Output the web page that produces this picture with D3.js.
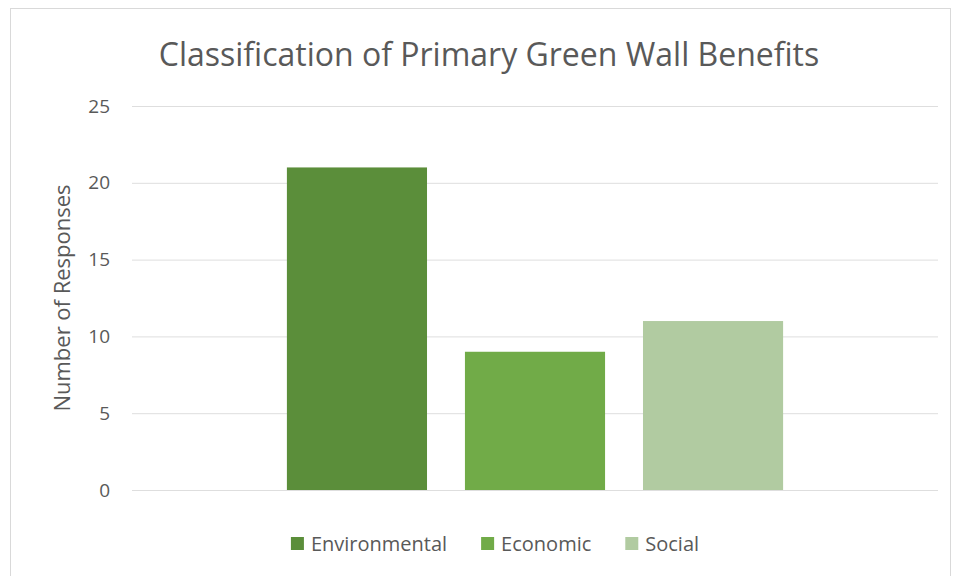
<!DOCTYPE html>
<html>
<head>
<meta charset="utf-8">
<script src="https://cdn.jsdelivr.net/npm/d3@7"></script>
<style>
  body { margin: 0; background: #fff; }
  text { font-family: "Open Sans", sans-serif; }
</style>
</head>
<body>
<svg id="chart" width="956" height="576"></svg>
<script>
// data
let series = ["Environmental", "Economic", "Social"];
let values = [21, 9, 11];
let colors = ["#5b8e3a", "#71ab48", "#b1cba1"];
let yTicks = [0, 5, 10, 15, 20, 25];

let svg = d3.select("#chart"),
    margin = {top: 106, right: 18, bottom: 86, left: 132},
    width = +svg.attr("width") - margin.left - margin.right,
    height = +svg.attr("height") - margin.top - margin.bottom;

// chart frame
svg.append("rect")
    .attr("x", 10.5).attr("y", 8.5)
    .attr("width", 940).attr("height", 570)
    .attr("fill", "#fff")
    .attr("stroke", "#d9d9d9");

let g = svg.append("g").attr("transform", "translate(" + margin.left + "," + margin.top + ")");

let x = d3.scaleBand()
    .domain(series)
    .range([0, width])
    .paddingInner(0.213)
    .paddingOuter(0.87);

let y = d3.scaleLinear()
    .domain([0, 25])
    .range([height, 0]);

// gridlines + tick labels
let yAxis = g.append("g")
    .call(d3.axisLeft(y).tickValues(yTicks).tickSize(-width).tickPadding(22));
yAxis.select(".domain").remove();
yAxis.selectAll(".tick line").attr("stroke", "#dedede");
yAxis.selectAll(".tick text")
    .attr("fill", "#595959")
    .attr("font-size", 19)
    .attr("font-family", "Open Sans, sans-serif");

// bars
g.selectAll("rect.bar")
    .data(series)
    .enter().append("rect")
    .attr("class", "bar")
    .attr("x", d => x(d))
    .attr("y", (d, i) => y(values[i]))
    .attr("width", x.bandwidth())
    .attr("height", (d, i) => y(0) - y(values[i]))
    .attr("fill", (d, i) => colors[i]);

// title
svg.append("text")
    .attr("x", 489)
    .attr("y", 66)
    .attr("text-anchor", "middle")
    .attr("fill", "#595959")
    .attr("font-size", 32)
    .text("Classification of Primary Green Wall Benefits");

// y axis title
svg.append("text")
    .attr("transform", "translate(70," + (margin.top + height / 2) + ") rotate(-90)")
    .attr("text-anchor", "middle")
    .attr("fill", "#595959")
    .attr("font-size", 22)
    .text("Number of Responses");

// legend
let legend = svg.append("g").attr("transform", "translate(0,544)");
let items = legend.selectAll("g")
    .data(series)
    .enter().append("g");
items.append("rect")
    .attr("y", -7)
    .attr("width", 13)
    .attr("height", 13)
    .attr("fill", (d, i) => colors[i]);
items.append("text")
    .attr("x", 20)
    .attr("dy", "0.35em")
    .attr("fill", "#595959")
    .attr("font-size", 20)
    .text(d => d);

let widths = [];
items.each(function () { widths.push(this.getBBox().width); });
let gap = 34;
let total = d3.sum(widths) + gap * (widths.length - 1);
let cx = 495 - total / 2;
items.attr("transform", (d, i) => {
    let t = "translate(" + cx + ",0)";
    cx += widths[i] + gap;
    return t;
});
</script>
</body>
</html>
